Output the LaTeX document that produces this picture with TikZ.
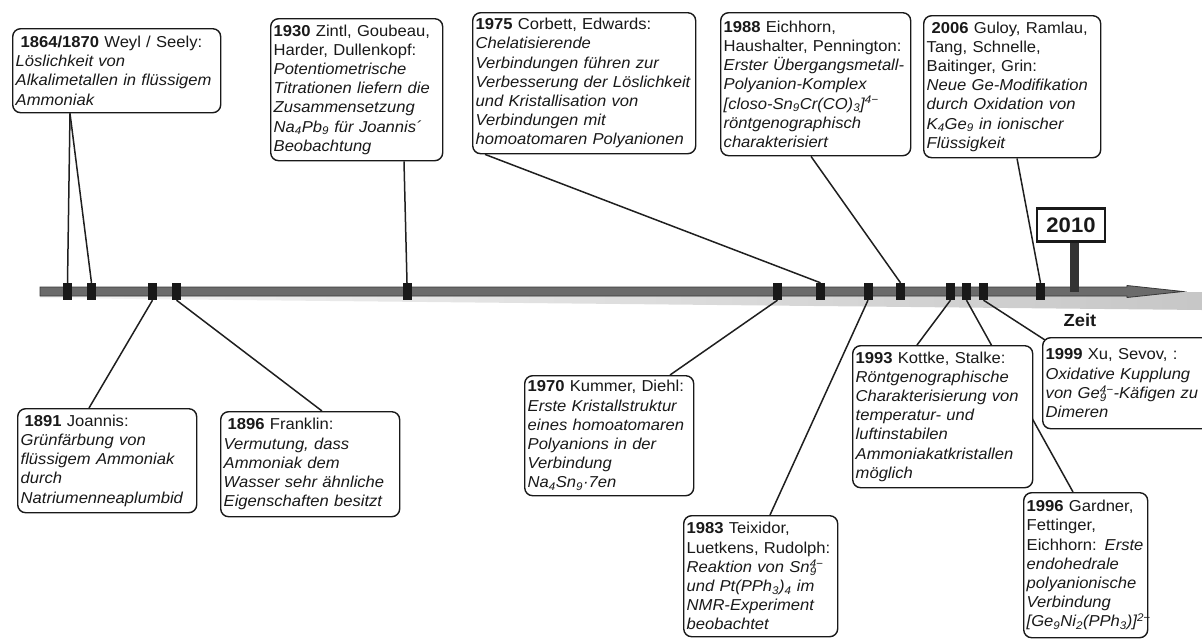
\documentclass[tikz,border=0pt]{standalone}
\usepackage{fontspec}
\setmainfont{Liberation Sans}[FakeStretch=1.05]
\newcommand\boxfont{\fontsize{15.8}{19.2}\selectfont}
\newcommand\chemsubsup[2]{\rlap{\textsubscript{#1}}\textsuperscript{#2}}
\pgfdeclarelayer{background}
\pgfsetlayers{background,main}
\begin{document}
\begin{tikzpicture}[x=1pt,y=-1pt,
  event/.style={draw=black!90, line width=1.4pt, rounded corners=8pt, fill=white,
    align=left, anchor=north west, inner xsep=3pt, inner ysep=2pt,
    font=\boxfont, text=black!90},
  link/.style={draw=black!88, line width=1.5pt},
  yearmark/.style={fill=black!90, draw=none, minimum width=9pt,
    minimum height=17pt, inner sep=0pt},
  signbox/.style={draw=black!90, line width=2.4pt, fill=white, text=black!90,
    font=\bfseries\fontsize{21}{24}\selectfont, minimum width=68pt,
    minimum height=33pt, inner sep=0pt},
]
\useasboundingbox (0,0) rectangle (1202,638);
\clip (0,0) rectangle (1202,638);

\begin{pgfonlayer}{background}
  % soft shadow under the time axis
  \shade[left color=black!4, right color=black!22]
    (40,294) -- (1202,292) -- (1202,310) -- (40,298) -- cycle;
  % time axis with arrow head
  \draw[draw=black!78, line width=0.8pt, top color=black!58, middle color=black!32,
    bottom color=black!58]
    (40,287) -- (1127,287) -- (1127,285.5) -- (1183,291.5) -- (1127,297.5)
    -- (1127,296) -- (40,296) -- cycle;
\end{pgfonlayer}

% year marks on the axis
\foreach \n/\x in {t1/67.5, t2/91.5, t3/152.5, t4/176.5, t5/407, t6/777.5,
  t7/820.5, t8/868, t9/900.5, t10/950.5, t11/966.5, t12/983.5, t13/1040.5}
  \node[yearmark] (\n) at (\x,291.5) {};

% 2010 sign post
\coordinate (postfoot) at (1074.5,292);
\node[signbox] (s2010) at (1071,225) {2010};
\draw[line width=9pt, black!80] ([xshift=3.5pt]s2010.south) -- (postfoot);
\node[signbox] at (s2010.center) {2010};

\node[font=\bfseries\fontsize{17.5}{20}\selectfont, text=black!90] (zeit) at (1080,320) {Zeit};

% event boxes above the axis
\node[event, text width=202pt, minimum height=84pt] (b1864) at (12,28)
  {\hspace*{5pt}\textbf{1864/1870} Weyl / Seely:\\\itshape Löslichkeit von\\Alkalimetallen in flüssigem\\Ammoniak};
\node[event, text width=166pt, minimum height=142pt] (b1930) at (270,18)
  {\textbf{1930} Zintl, Goubeau,\\Harder, Dullenkopf:\\\itshape Potentiometrische\\Titrationen liefern die\\Zusammensetzung\\Na\textsubscript{4}Pb\textsubscript{9} für Joannis´\\Beobachtung};
\node[event, text width=217pt, minimum height=141pt] (b1975) at (472,12)
  {\textbf{1975} Corbett, Edwards:\\\itshape Chelatisierende\\Verbindungen führen zur\\Verbesserung der Löslichkeit\\und Kristallisation von\\Verbindungen mit\\homoatomaren Polyanionen};
\node[event, text width=184pt, minimum height=143pt] (b1988) at (720,12)
  {\textbf{1988} Eichhorn,\\Haushalter, Pennington:\\\itshape Erster Übergangsmetall-\\Polyanion-Komplex\\{}[closo-Sn\textsubscript{9}Cr(CO)\textsubscript{3}]\textsuperscript{4−}\\röntgenographisch\\charakterisiert};
\node[event, text width=171pt, minimum height=142pt] (b2006) at (923,15)
  {\hspace*{5pt}\textbf{2006} Guloy, Ramlau,\\Tang, Schnelle,\\Baitinger, Grin:\\\itshape Neue Ge-Modifikation\\durch Oxidation von\\K\textsubscript{4}Ge\textsubscript{9} in ionischer\\Flüssigkeit};

% event boxes below the axis
\node[event, text width=173pt, minimum height=104pt] (b1891) at (17,408)
  {\hspace*{4pt}\textbf{1891} Joannis:\\\itshape Grünfärbung von\\flüssigem Ammoniak\\durch\\Natriumenneaplumbid};
\node[event, text width=173pt, minimum height=105pt] (b1896) at (220,411)
  {\hspace*{4pt}\textbf{1896} Franklin:\\\itshape Vermutung, dass\\Ammoniak dem\\Wasser sehr ähnliche\\Eigenschaften besitzt};
\node[event, text width=163pt, minimum height=120pt] (b1970) at (524,375)
  {\textbf{1970} Kummer, Diehl:\\\itshape Erste Kristallstruktur\\eines homoatomaren\\Polyanions in der\\Verbindung\\Na\textsubscript{4}Sn\textsubscript{9}·7en};
\node[event, text width=148pt, minimum height=121pt] (b1983) at (683,515)
  {\textbf{1983} Teixidor,\\Luetkens, Rudolph:\\\itshape Reaktion von Sn\chemsubsup{9}{4−}\\und Pt(PPh\textsubscript{3})\textsubscript{4} im\\NMR-Experiment\\beobachtet};
\node[event, text width=174pt, minimum height=142pt] (b1993) at (852,345)
  {\textbf{1993} Kottke, Stalke:\\\itshape Röntgenographische\\Charakterisierung von\\temperatur- und\\luftinstabilen\\Ammoniakatkristallen\\möglich};
\node[event, text width=169pt, minimum height=91pt] (b1999) at (1042,337)
  {\textbf{1999} Xu, Sevov, :\\\itshape Oxidative Kupplung\\von Ge\chemsubsup{9}{4−}-Käfigen zu\\Dimeren};
\node[event, text width=118pt, minimum height=145pt] (b1996) at (1023,492)
  {\textbf{1996} Gardner,\\Fettinger,\\Eichhorn: \textit{Erste}\\\itshape endohedrale\\polyanionische\\Verbindung\\{}[Ge\textsubscript{9}Ni\textsubscript{2}(PPh\textsubscript{3})]\textsuperscript{2−}};

% connectors from the boxes to their year marks, kept behind boxes and marks
\begin{pgfonlayer}{background}
  \draw[link] ([xshift=58pt]b1864.south west) -- (t1.north);
  \draw[link] ([xshift=58pt]b1864.south west) -- (t2.north);
  \draw[link] ([xshift=134pt]b1930.south west) -- (t5.north);
  \draw[link] ([xshift=13pt]b1975.south west) -- (t7.north);
  \draw[link] ([xshift=91pt]b1988.south west) -- (t9.north);
  \draw[link] ([xshift=94pt]b2006.south west) -- (t13.north);
  \draw[link] (t3.south) -- ([xshift=72pt]b1891.north west);
  \draw[link] (t4.south) -- ([xshift=102pt]b1896.north west);
  \draw[link] (t6.south) -- ([xshift=146pt]b1970.north west);
  \draw[link] (t8.south) -- ([xshift=87pt]b1983.north west);
  \draw[link] (t10.south) -- ([xshift=65pt]b1993.north west);
  \draw[link] (t11.south) -- ([xshift=50pt]b1996.north west);
  \draw[link] (t12.south) -- ([xshift=3pt,yshift=-3pt]b1999.north west);
\end{pgfonlayer}
\end{tikzpicture}
\end{document}
